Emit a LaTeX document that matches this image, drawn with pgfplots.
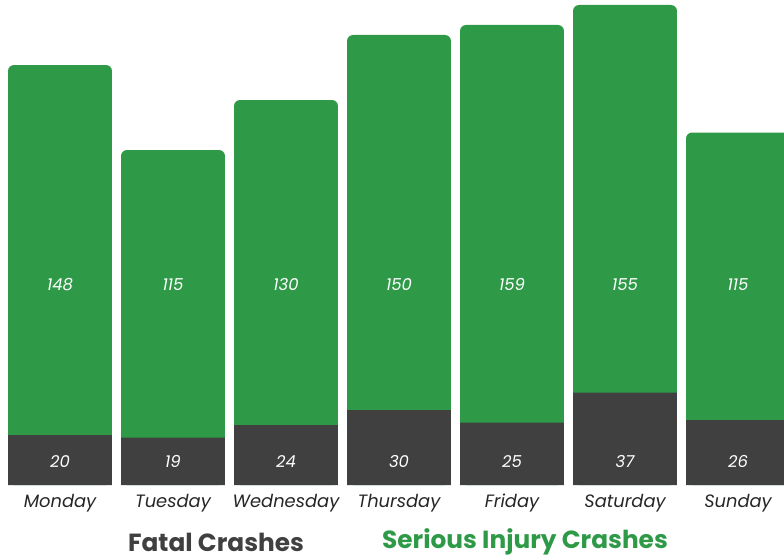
\documentclass[border=0pt]{standalone}
\usepackage{pgfplots}
\pgfplotsset{compat=1.18}
\usepackage{pgfplotstable}
\usepackage{fontspec}
\setmainfont{Poppins}
\definecolor{grn}{HTML}{2E9A48}
\definecolor{drk}{HTML}{404040}
\pgfplotstableread{
x day fatal serious
0 Monday 20 148
1 Tuesday 19 115
2 Wednesday 24 130
3 Thursday 30 150
4 Friday 25 159
5 Saturday 37 155
6 Sunday 26 115
}\crashdata
\begin{document}
\begin{tikzpicture}
\useasboundingbox (0,-54.75pt) rectangle (588pt,363.75pt);
\begin{axis}[
  scale only axis,
  width=588pt, height=363.75pt,
  xmin=-0.531, xmax=6.407,
  ymin=0, ymax=194,
  clip=true,
  axis line style={draw=none},
  major tick length=0pt,
  ytick=\empty,
  xtick={0,...,6},
  xticklabels={Monday,Tuesday,Wednesday,Thursday,Friday,Saturday,Sunday},
  xticklabel style={anchor=center, yshift=-13.8pt, font=\itshape\fontsize{13.4}{15}\selectfont, text=black!85},
]
\addplot[ybar, bar width=0.92, bar shift=0pt, fill=grn, draw=none, rounded corners=4.5pt]
  table[x=x, y expr=\thisrow{fatal}+\thisrow{serious}] {\crashdata};
\addplot[ybar, bar width=0.92, bar shift=0pt, fill=drk, draw=none]
  table[x=x, y=fatal] {\crashdata};
\addplot[draw=none, mark=none, nodes near coords, point meta=explicit symbolic,
  nodes near coords style={anchor=center, text=white, font=\itshape\fontsize{12.3}{14}\selectfont}]
  table[x=x, y expr=80.2, meta=serious] {\crashdata};
\addplot[draw=none, mark=none, nodes near coords, point meta=explicit symbolic,
  nodes near coords style={anchor=center, text=white, font=\itshape\fontsize{12.3}{14}\selectfont}]
  table[x=x, y expr=9.4, meta=fatal] {\crashdata};
\end{axis}
\node[inner sep=0pt, font=\bfseries\fontsize{18.6}{20}\selectfont, text=drk] at (162pt,-43pt) {Fatal Crashes};
\node[inner sep=0pt, font=\bfseries\fontsize{18.6}{20}\selectfont, text=grn] at (393.75pt,-43pt) {Serious Injury Crashes};
\end{tikzpicture}
\end{document}
